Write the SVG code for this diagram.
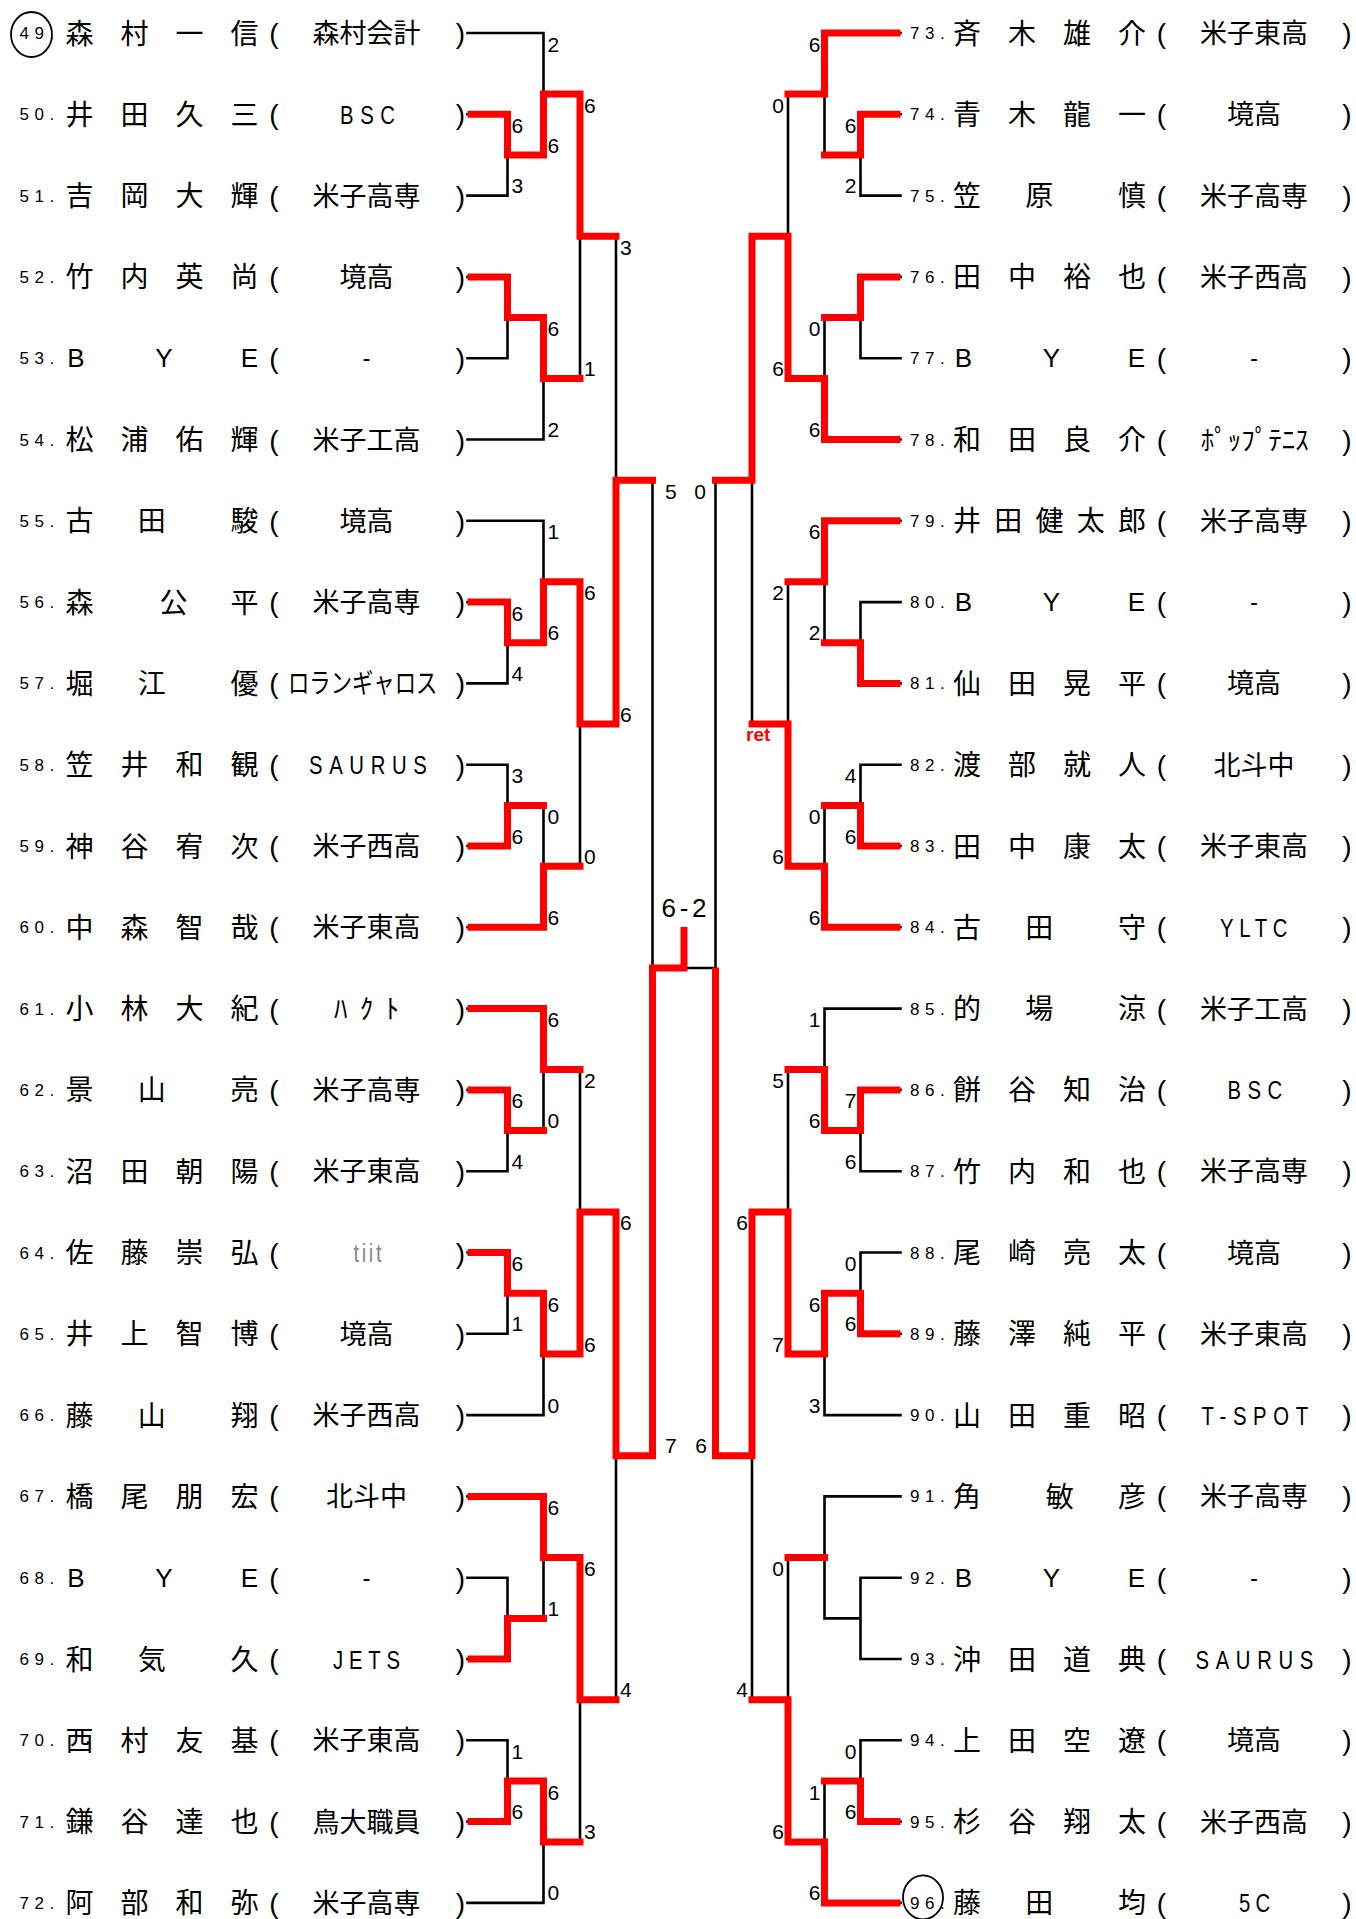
<svg xmlns="http://www.w3.org/2000/svg" width="1356" height="1919" viewBox="0 0 1356 1919">
<style>
.bk{fill:none;stroke:#000;stroke-width:2.6;stroke-linecap:square}
.rd{fill:none;stroke:#f00;stroke-width:7;stroke-linejoin:miter;stroke-linecap:square}
.sc{font-family:'Liberation Sans Narrow','Liberation Sans',Arial,sans-serif;font-size:21px;fill:#000}
.scr{text-anchor:end}
.big{font-family:'Liberation Sans',Arial,sans-serif;font-size:21px;fill:#000}
.ret{font-family:'Liberation Sans',Arial,sans-serif;font-size:19px;font-weight:bold;fill:#f00}
.num{font-family:'Liberation Sans Narrow','Liberation Sans',sans-serif;font-size:17px;letter-spacing:5.5px;fill:#000}
.nm{font-family:'Noto Sans CJK JP',sans-serif;font-size:28px;text-anchor:middle;fill:#000}
.lat{font-family:'Liberation Sans Narrow','Liberation Sans',sans-serif;font-size:26px;text-anchor:middle;fill:#000}
.par{font-family:'Liberation Sans Narrow','Liberation Sans',sans-serif;font-size:28px;text-anchor:middle;fill:#000}
.aff{font-family:'Noto Sans CJK JP',sans-serif;font-size:27px;text-anchor:middle;fill:#000}
.affk{font-family:'Noto Sans CJK JP',sans-serif;font-size:27px;fill:#000}
.affl{font-family:'Liberation Sans',sans-serif;font-size:26px;fill:#000}
.dash{font-family:'Liberation Sans',sans-serif;font-size:24px;text-anchor:middle;fill:#000}
.circ{fill:none;stroke:#000;stroke-width:1.8}
</style>
<rect width="1356" height="1919" fill="#fff"/>
<g id="connectors">
<path class="bk" d="M467.5,33H543.5V155 M467.5,114.3H507.5V195.6H467.5 M507.5,155H543.5 M467.5,276.9H507.5V358.2H467.5 M507.5,317.6H543.5V439.5H467.5 M543.5,94H580V378.5H543.5 M580,236.3H616
M467.5,520.8H543.5V642.8 M467.5,602.1H507.5V683.4H467.5 M507.5,642.8H543.5 M467.5,764.7H507.5V846H467.5 M507.5,805.4H543.5V927.3H467.5 M543.5,581.8H580V866.3H543.5 M580,724.1H616
M467.5,1008.6H543.5V1130.6 M467.5,1089.9H507.5V1171.2H467.5 M507.5,1130.6H543.5 M467.5,1252.5H507.5V1333.8H467.5 M507.5,1293.2H543.5V1415.1H467.5 M543.5,1069.6H580V1354.1H543.5 M580,1211.9H616
M467.5,1496.4H543.5V1618.4 M467.5,1577.7H507.5V1659H467.5 M507.5,1618.4H543.5 M467.5,1740.3H507.5V1821.6H467.5 M507.5,1781H543.5V1902.9H467.5 M543.5,1557.4H580V1841.9H543.5 M580,1699.7H616
M616,236.3V724.1 M616,480.2H652.5 M616,1211.9V1699.7 M616,1455.8H652.5 M652.5,480.2V1455.8 M652.5,968H715.5
M900.5,33H824.5V155 M900.5,114.3H860.5V195.6H900.5 M860.5,155H824.5 M900.5,276.9H860.5V358.2H900.5 M860.5,317.6H824.5V439.5H900.5 M824.5,94H788V378.5H824.5 M788,236.3H752
M900.5,520.8H824.5V642.8 M900.5,602.1H860.5V683.4H900.5 M860.5,642.8H824.5 M900.5,764.7H860.5V846H900.5 M860.5,805.4H824.5V927.3H900.5 M824.5,581.8H788V866.3H824.5 M788,724.1H752
M900.5,1008.6H824.5V1130.6 M900.5,1089.9H860.5V1171.2H900.5 M860.5,1130.6H824.5 M900.5,1252.5H860.5V1333.8H900.5 M860.5,1293.2H824.5V1415.1H900.5 M824.5,1069.6H788V1354.1H824.5 M788,1211.9H752
M900.5,1496.4H824.5V1618.4 M900.5,1577.7H860.5V1659H900.5 M860.5,1618.4H824.5 M900.5,1740.3H860.5V1821.6H900.5 M860.5,1781H824.5V1902.9H900.5 M824.5,1557.4H788V1841.9H824.5 M788,1699.7H752
M752,236.3V724.1 M752,480.2H715.5 M752,1211.9V1699.7 M752,1455.8H715.5 M715.5,480.2V1455.8"/>
<path class="rd" d="M471,114.3H507.5V155H543.5V94H580V236.3H616
M471,276.9H507.5V317.6H543.5V378.5H580
M471,602.1H507.5V642.8H543.5V581.8H580V724.1H616V480.2H652.5
M471,846H507.5V805.4H543.5
M471,927.3H543.5V866.3H580
M471,1008.6H543.5V1069.6H580
M471,1089.9H507.5V1130.6H543.5
M471,1252.5H507.5V1293.2H543.5V1354.1H580V1211.9H616V1455.8H652.5V968H684V930.5
M471,1496.4H543.5V1557.4H580V1699.7H616
M471,1659H507.5V1618.4H543.5
M471,1821.6H507.5V1781H543.5V1841.9H580
M897,33H824.5V94H788
M897,114.3H860.5V155H824.5
M897,276.9H860.5V317.6H824.5
M897,439.5H824.5V378.5H788V236.3H752V480.2H715.5
M897,520.8H824.5V581.8H788
M897,683.4H860.5V642.8H824.5
M897,846H860.5V805.4H824.5
M897,927.3H824.5V866.3H788V724.1H752
M897,1089.9H860.5V1130.6H824.5V1069.6H788
M897,1333.8H860.5V1293.2H824.5V1354.1H788V1211.9H752V1455.8H715.5V971
M824.5,1557.4H788
M897,1821.6H860.5V1781H824.5
M897,1902.9H824.5V1841.9H788V1699.7H752"/>
</g>
<g id="scores">
<text class="sc" x="511.5" y="132.8">6</text><text class="sc" x="511.5" y="193.1">3</text>
<text class="sc" x="547.5" y="51.5">2</text><text class="sc" x="547.5" y="152.5">6</text>
<text class="sc" x="547.5" y="336.1">6</text><text class="sc" x="547.5" y="437">2</text>
<text class="sc" x="584" y="112.5">6</text><text class="sc" x="584" y="376">1</text>
<text class="sc" x="511.5" y="620.6">6</text><text class="sc" x="511.5" y="680.9">4</text>
<text class="sc" x="547.5" y="539.3">1</text><text class="sc" x="547.5" y="640.3">6</text>
<text class="sc" x="511.5" y="783.2">3</text><text class="sc" x="511.5" y="843.5">6</text>
<text class="sc" x="547.5" y="823.9">0</text><text class="sc" x="547.5" y="924.8">6</text>
<text class="sc" x="584" y="600.3">6</text><text class="sc" x="584" y="863.8">0</text>
<text class="sc" x="620" y="254.8">3</text><text class="sc" x="620" y="721.6">6</text>
<text class="sc" x="511.5" y="1108.4">6</text><text class="sc" x="511.5" y="1168.7">4</text>
<text class="sc" x="547.5" y="1027.1">6</text><text class="sc" x="547.5" y="1128.1">0</text>
<text class="sc" x="511.5" y="1271">6</text><text class="sc" x="511.5" y="1331.3">1</text>
<text class="sc" x="547.5" y="1311.7">6</text><text class="sc" x="547.5" y="1412.6">0</text>
<text class="sc" x="584" y="1088.1">2</text><text class="sc" x="584" y="1351.6">6</text>
<text class="sc" x="547.5" y="1514.9">6</text><text class="sc" x="547.5" y="1615.9">1</text>
<text class="sc" x="511.5" y="1758.8">1</text><text class="sc" x="511.5" y="1819.1">6</text>
<text class="sc" x="547.5" y="1799.5">6</text><text class="sc" x="547.5" y="1900.4">0</text>
<text class="sc" x="584" y="1575.9">6</text><text class="sc" x="584" y="1839.4">3</text>
<text class="sc" x="620" y="1230.4">6</text><text class="sc" x="620" y="1697.2">4</text>
<text class="big" x="665" y="498.7">5</text><text class="big" x="665" y="1453.3">7</text>
<text class="sc scr" x="856.5" y="132.8">6</text><text class="sc scr" x="856.5" y="193.1">2</text>
<text class="sc scr" x="820.5" y="51.5">6</text>
<text class="sc scr" x="820.5" y="336.1">0</text><text class="sc scr" x="820.5" y="437">6</text>
<text class="sc scr" x="784" y="112.5">0</text><text class="sc scr" x="784" y="376">6</text>
<text class="sc scr" x="820.5" y="539.3">6</text><text class="sc scr" x="820.5" y="640.3">2</text>
<text class="sc scr" x="856.5" y="783.2">4</text><text class="sc scr" x="856.5" y="843.5">6</text>
<text class="sc scr" x="820.5" y="823.9">0</text><text class="sc scr" x="820.5" y="924.8">6</text>
<text class="sc scr" x="784" y="600.3">2</text><text class="sc scr" x="784" y="863.8">6</text>
<text class="sc scr" x="856.5" y="1108.4">7</text><text class="sc scr" x="856.5" y="1168.7">6</text>
<text class="sc scr" x="820.5" y="1027.1">1</text><text class="sc scr" x="820.5" y="1128.1">6</text>
<text class="sc scr" x="856.5" y="1271">0</text><text class="sc scr" x="856.5" y="1331.3">6</text>
<text class="sc scr" x="820.5" y="1311.7">6</text><text class="sc scr" x="820.5" y="1412.6">3</text>
<text class="sc scr" x="784" y="1088.1">5</text><text class="sc scr" x="784" y="1351.6">7</text>
<text class="sc scr" x="784" y="1575.9">0</text><text class="sc scr" x="784" y="1839.4">6</text>
<text class="sc scr" x="856.5" y="1758.8">0</text><text class="sc scr" x="856.5" y="1819.1">6</text>
<text class="sc scr" x="820.5" y="1799.5">1</text><text class="sc scr" x="820.5" y="1900.4">6</text>
<text class="sc scr" x="748" y="1230.4">6</text><text class="sc scr" x="748" y="1697.2">4</text>
<text class="big scr" x="706" y="498.7">0</text><text class="big scr" x="707" y="1453.3">6</text>
<text class="ret" x="746" y="741">ret</text>
<text class="big" x="661.5" y="917" textLength="45" lengthAdjust="spacing" style="font-size:26px">6-2</text>
</g>
<g id="p49" transform="translate(0,33)"><ellipse class="circ" cx="31.5" cy="1.5" rx="20.5" ry="22.5"/><text class="num" x="19.5" y="6">49.</text><text class="nm" x="79.5 134.5 189.5 244.5" y="10.5">森村一信</text><text class="par" x="274" y="10">(</text><text class="aff" x="366.5" y="10">森村会計</text><text class="par" x="460.5" y="10">)</text></g>
<g id="p50" transform="translate(0,114.3)"><text class="num" x="19.5" y="6">50.</text><text class="nm" x="79.5 134.5 189.5 244.5" y="10.5">井田久三</text><text class="par" x="274" y="10">(</text><text class="affl" transform="translate(340,9.5) scale(0.78,1)" textLength="70.5" lengthAdjust="spacing">BSC</text><text class="par" x="460.5" y="10">)</text></g>
<g id="p51" transform="translate(0,195.6)"><text class="num" x="19.5" y="6">51.</text><text class="nm" x="79.5 134.5 189.5 244.5" y="10.5">吉岡大輝</text><text class="par" x="274" y="10">(</text><text class="aff" x="366.5" y="10">米子高専</text><text class="par" x="460.5" y="10">)</text></g>
<g id="p52" transform="translate(0,276.9)"><text class="num" x="19.5" y="6">52.</text><text class="nm" x="79.5 134.5 189.5 244.5" y="10.5">竹内英尚</text><text class="par" x="274" y="10">(</text><text class="aff" x="366.5" y="10">境高</text><text class="par" x="460.5" y="10">)</text></g>
<g id="p53" transform="translate(0,358.2)"><text class="num" x="19.5" y="6">53.</text><text class="lat" x="76 164 249.5" y="9">BYE</text><text class="par" x="274" y="10">(</text><text class="dash" x="366.5" y="8">-</text><text class="par" x="460.5" y="10">)</text></g>
<g id="p54" transform="translate(0,439.5)"><text class="num" x="19.5" y="6">54.</text><text class="nm" x="79.5 134.5 189.5 244.5" y="10.5">松浦佑輝</text><text class="par" x="274" y="10">(</text><text class="aff" x="366.5" y="10">米子工高</text><text class="par" x="460.5" y="10">)</text></g>
<g id="p55" transform="translate(0,520.8)"><text class="num" x="19.5" y="6">55.</text><text class="nm" x="79.5 151.8 244.5" y="10.5">古田駿</text><text class="par" x="274" y="10">(</text><text class="aff" x="366.5" y="10">境高</text><text class="par" x="460.5" y="10">)</text></g>
<g id="p56" transform="translate(0,602.1)"><text class="num" x="19.5" y="6">56.</text><text class="nm" x="79.5 173.5 244.5" y="10.5">森公平</text><text class="par" x="274" y="10">(</text><text class="aff" x="366.5" y="10">米子高専</text><text class="par" x="460.5" y="10">)</text></g>
<g id="p57" transform="translate(0,683.4)"><text class="num" x="19.5" y="6">57.</text><text class="nm" x="79.5 151.8 244.5" y="10.5">堀江優</text><text class="par" x="274" y="10">(</text><text class="affk" transform="translate(288,10) scale(0.79,1)">ロランギャロス</text><text class="par" x="460.5" y="10">)</text></g>
<g id="p58" transform="translate(0,764.7)"><text class="num" x="19.5" y="6">58.</text><text class="nm" x="79.5 134.5 189.5 244.5" y="10.5">笠井和観</text><text class="par" x="274" y="10">(</text><text class="affl" transform="translate(309,9.5) scale(0.78,1)" textLength="151" lengthAdjust="spacing">SAURUS</text><text class="par" x="460.5" y="10">)</text></g>
<g id="p59" transform="translate(0,846)"><text class="num" x="19.5" y="6">59.</text><text class="nm" x="79.5 134.5 189.5 244.5" y="10.5">神谷宥次</text><text class="par" x="274" y="10">(</text><text class="aff" x="366.5" y="10">米子西高</text><text class="par" x="460.5" y="10">)</text></g>
<g id="p60" transform="translate(0,927.3)"><text class="num" x="19.5" y="6">60.</text><text class="nm" x="79.5 134.5 189.5 244.5" y="10.5">中森智哉</text><text class="par" x="274" y="10">(</text><text class="aff" x="366.5" y="10">米子東高</text><text class="par" x="460.5" y="10">)</text></g>
<g id="p61" transform="translate(0,1008.6)"><text class="num" x="19.5" y="6">61.</text><text class="nm" x="79.5 134.5 189.5 244.5" y="10.5">小林大紀</text><text class="par" x="274" y="10">(</text><text class="affk" x="334" y="10" textLength="65" lengthAdjust="spacing">ﾊｸﾄ</text><text class="par" x="460.5" y="10">)</text></g>
<g id="p62" transform="translate(0,1089.9)"><text class="num" x="19.5" y="6">62.</text><text class="nm" x="79.5 151.8 244.5" y="10.5">景山亮</text><text class="par" x="274" y="10">(</text><text class="aff" x="366.5" y="10">米子高専</text><text class="par" x="460.5" y="10">)</text></g>
<g id="p63" transform="translate(0,1171.2)"><text class="num" x="19.5" y="6">63.</text><text class="nm" x="79.5 134.5 189.5 244.5" y="10.5">沼田朝陽</text><text class="par" x="274" y="10">(</text><text class="aff" x="366.5" y="10">米子東高</text><text class="par" x="460.5" y="10">)</text></g>
<g id="p64" transform="translate(0,1252.5)"><text class="num" x="19.5" y="6">64.</text><text class="nm" x="79.5 134.5 189.5 244.5" y="10.5">佐藤崇弘</text><text class="par" x="274" y="10">(</text><text class="affl" transform="translate(353.5,9.5) scale(0.78,1)" textLength="36" lengthAdjust="spacing" style="fill:#8a8a8a">tiit</text><text class="par" x="460.5" y="10">)</text></g>
<g id="p65" transform="translate(0,1333.8)"><text class="num" x="19.5" y="6">65.</text><text class="nm" x="79.5 134.5 189.5 244.5" y="10.5">井上智博</text><text class="par" x="274" y="10">(</text><text class="aff" x="366.5" y="10">境高</text><text class="par" x="460.5" y="10">)</text></g>
<g id="p66" transform="translate(0,1415.1)"><text class="num" x="19.5" y="6">66.</text><text class="nm" x="79.5 151.8 244.5" y="10.5">藤山翔</text><text class="par" x="274" y="10">(</text><text class="aff" x="366.5" y="10">米子西高</text><text class="par" x="460.5" y="10">)</text></g>
<g id="p67" transform="translate(0,1496.4)"><text class="num" x="19.5" y="6">67.</text><text class="nm" x="79.5 134.5 189.5 244.5" y="10.5">橋尾朋宏</text><text class="par" x="274" y="10">(</text><text class="aff" x="366.5" y="10">北斗中</text><text class="par" x="460.5" y="10">)</text></g>
<g id="p68" transform="translate(0,1577.7)"><text class="num" x="19.5" y="6">68.</text><text class="lat" x="76 164 249.5" y="9">BYE</text><text class="par" x="274" y="10">(</text><text class="dash" x="366.5" y="8">-</text><text class="par" x="460.5" y="10">)</text></g>
<g id="p69" transform="translate(0,1659)"><text class="num" x="19.5" y="6">69.</text><text class="nm" x="79.5 151.8 244.5" y="10.5">和気久</text><text class="par" x="274" y="10">(</text><text class="affl" transform="translate(333,9.5) scale(0.78,1)" textLength="86" lengthAdjust="spacing">JETS</text><text class="par" x="460.5" y="10">)</text></g>
<g id="p70" transform="translate(0,1740.3)"><text class="num" x="19.5" y="6">70.</text><text class="nm" x="79.5 134.5 189.5 244.5" y="10.5">西村友基</text><text class="par" x="274" y="10">(</text><text class="aff" x="366.5" y="10">米子東高</text><text class="par" x="460.5" y="10">)</text></g>
<g id="p71" transform="translate(0,1821.6)"><text class="num" x="19.5" y="6">71.</text><text class="nm" x="79.5 134.5 189.5 244.5" y="10.5">鎌谷達也</text><text class="par" x="274" y="10">(</text><text class="aff" x="366.5" y="10">鳥大職員</text><text class="par" x="460.5" y="10">)</text></g>
<g id="p72" transform="translate(0,1902.9)"><text class="num" x="19.5" y="6">72.</text><text class="nm" x="79.5 134.5 189.5 244.5" y="10.5">阿部和弥</text><text class="par" x="274" y="10">(</text><text class="aff" x="366.5" y="10">米子高専</text><text class="par" x="460.5" y="10">)</text></g>
<g id="p73" transform="translate(0,33)"><text class="num" x="910" y="6">73.</text><text class="nm" x="967 1022 1077 1132" y="10.5">斉木雄介</text><text class="par" x="1161.5" y="10">(</text><text class="aff" x="1254" y="10">米子東高</text><text class="par" x="1347" y="10">)</text></g>
<g id="p74" transform="translate(0,114.3)"><text class="num" x="910" y="6">74.</text><text class="nm" x="967 1022 1077 1132" y="10.5">青木龍一</text><text class="par" x="1161.5" y="10">(</text><text class="aff" x="1254" y="10">境高</text><text class="par" x="1347" y="10">)</text></g>
<g id="p75" transform="translate(0,195.6)"><text class="num" x="910" y="6">75.</text><text class="nm" x="967 1039.3 1132" y="10.5">笠原慎</text><text class="par" x="1161.5" y="10">(</text><text class="aff" x="1254" y="10">米子高専</text><text class="par" x="1347" y="10">)</text></g>
<g id="p76" transform="translate(0,276.9)"><text class="num" x="910" y="6">76.</text><text class="nm" x="967 1022 1077 1132" y="10.5">田中裕也</text><text class="par" x="1161.5" y="10">(</text><text class="aff" x="1254" y="10">米子西高</text><text class="par" x="1347" y="10">)</text></g>
<g id="p77" transform="translate(0,358.2)"><text class="num" x="910" y="6">77.</text><text class="lat" x="963.5 1051.5 1136.5" y="9">BYE</text><text class="par" x="1161.5" y="10">(</text><text class="dash" x="1254" y="8">-</text><text class="par" x="1347" y="10">)</text></g>
<g id="p78" transform="translate(0,439.5)"><text class="num" x="910" y="6">78.</text><text class="nm" x="967 1022 1077 1132" y="10.5">和田良介</text><text class="par" x="1161.5" y="10">(</text><text class="affk" x="1200.7" y="10" textLength="108" lengthAdjust="spacing">ﾎﾟｯﾌﾟﾃﾆｽ</text><text class="par" x="1347" y="10">)</text></g>
<g id="p79" transform="translate(0,520.8)"><text class="num" x="910" y="6">79.</text><text class="nm" x="967 1008.3 1049.5 1090.8 1132" y="10.5">井田健太郎</text><text class="par" x="1161.5" y="10">(</text><text class="aff" x="1254" y="10">米子高専</text><text class="par" x="1347" y="10">)</text></g>
<g id="p80" transform="translate(0,602.1)"><text class="num" x="910" y="6">80.</text><text class="lat" x="963.5 1051.5 1136.5" y="9">BYE</text><text class="par" x="1161.5" y="10">(</text><text class="dash" x="1254" y="8">-</text><text class="par" x="1347" y="10">)</text></g>
<g id="p81" transform="translate(0,683.4)"><text class="num" x="910" y="6">81.</text><text class="nm" x="967 1022 1077 1132" y="10.5">仙田晃平</text><text class="par" x="1161.5" y="10">(</text><text class="aff" x="1254" y="10">境高</text><text class="par" x="1347" y="10">)</text></g>
<g id="p82" transform="translate(0,764.7)"><text class="num" x="910" y="6">82.</text><text class="nm" x="967 1022 1077 1132" y="10.5">渡部就人</text><text class="par" x="1161.5" y="10">(</text><text class="aff" x="1254" y="10">北斗中</text><text class="par" x="1347" y="10">)</text></g>
<g id="p83" transform="translate(0,846)"><text class="num" x="910" y="6">83.</text><text class="nm" x="967 1022 1077 1132" y="10.5">田中康太</text><text class="par" x="1161.5" y="10">(</text><text class="aff" x="1254" y="10">米子東高</text><text class="par" x="1347" y="10">)</text></g>
<g id="p84" transform="translate(0,927.3)"><text class="num" x="910" y="6">84.</text><text class="nm" x="967 1039.3 1132" y="10.5">古田守</text><text class="par" x="1161.5" y="10">(</text><text class="affl" transform="translate(1220,9.5) scale(0.78,1)" textLength="86.5" lengthAdjust="spacing">YLTC</text><text class="par" x="1347" y="10">)</text></g>
<g id="p85" transform="translate(0,1008.6)"><text class="num" x="910" y="6">85.</text><text class="nm" x="967 1039.3 1132" y="10.5">的場涼</text><text class="par" x="1161.5" y="10">(</text><text class="aff" x="1254" y="10">米子工高</text><text class="par" x="1347" y="10">)</text></g>
<g id="p86" transform="translate(0,1089.9)"><text class="num" x="910" y="6">86.</text><text class="nm" x="967 1022 1077 1132" y="10.5">餅谷知治</text><text class="par" x="1161.5" y="10">(</text><text class="affl" transform="translate(1227.6,9.5) scale(0.78,1)" textLength="70" lengthAdjust="spacing">BSC</text><text class="par" x="1347" y="10">)</text></g>
<g id="p87" transform="translate(0,1171.2)"><text class="num" x="910" y="6">87.</text><text class="nm" x="967 1022 1077 1132" y="10.5">竹内和也</text><text class="par" x="1161.5" y="10">(</text><text class="aff" x="1254" y="10">米子高専</text><text class="par" x="1347" y="10">)</text></g>
<g id="p88" transform="translate(0,1252.5)"><text class="num" x="910" y="6">88.</text><text class="nm" x="967 1022 1077 1132" y="10.5">尾崎亮太</text><text class="par" x="1161.5" y="10">(</text><text class="aff" x="1254" y="10">境高</text><text class="par" x="1347" y="10">)</text></g>
<g id="p89" transform="translate(0,1333.8)"><text class="num" x="910" y="6">89.</text><text class="nm" x="967 1022 1077 1132" y="10.5">藤澤純平</text><text class="par" x="1161.5" y="10">(</text><text class="aff" x="1254" y="10">米子東高</text><text class="par" x="1347" y="10">)</text></g>
<g id="p90" transform="translate(0,1415.1)"><text class="num" x="910" y="6">90.</text><text class="nm" x="967 1022 1077 1132" y="10.5">山田重昭</text><text class="par" x="1161.5" y="10">(</text><text class="affl" transform="translate(1201.6,9.5) scale(0.78,1)" textLength="136.5" lengthAdjust="spacing">T-SPOT</text><text class="par" x="1347" y="10">)</text></g>
<g id="p91" transform="translate(0,1496.4)"><text class="num" x="910" y="6">91.</text><text class="nm" x="967 1059.8 1132" y="10.5">角敏彦</text><text class="par" x="1161.5" y="10">(</text><text class="aff" x="1254" y="10">米子高専</text><text class="par" x="1347" y="10">)</text></g>
<g id="p92" transform="translate(0,1577.7)"><text class="num" x="910" y="6">92.</text><text class="lat" x="963.5 1051.5 1136.5" y="9">BYE</text><text class="par" x="1161.5" y="10">(</text><text class="dash" x="1254" y="8">-</text><text class="par" x="1347" y="10">)</text></g>
<g id="p93" transform="translate(0,1659)"><text class="num" x="910" y="6">93.</text><text class="nm" x="967 1022 1077 1132" y="10.5">沖田道典</text><text class="par" x="1161.5" y="10">(</text><text class="affl" transform="translate(1195.5,9.5) scale(0.78,1)" textLength="151" lengthAdjust="spacing">SAURUS</text><text class="par" x="1347" y="10">)</text></g>
<g id="p94" transform="translate(0,1740.3)"><text class="num" x="910" y="6">94.</text><text class="nm" x="967 1022 1077 1132" y="10.5">上田空遼</text><text class="par" x="1161.5" y="10">(</text><text class="aff" x="1254" y="10">境高</text><text class="par" x="1347" y="10">)</text></g>
<g id="p95" transform="translate(0,1821.6)"><text class="num" x="910" y="6">95.</text><text class="nm" x="967 1022 1077 1132" y="10.5">杉谷翔太</text><text class="par" x="1161.5" y="10">(</text><text class="aff" x="1254" y="10">米子西高</text><text class="par" x="1347" y="10">)</text></g>
<g id="p96" transform="translate(0,1902.9)"><ellipse class="circ" cx="923" cy="-5.5" rx="20" ry="22"/><text class="num" x="910" y="6">96.</text><text class="nm" x="967 1039.3 1132" y="10.5">藤田均</text><text class="par" x="1161.5" y="10">(</text><text class="affl" transform="translate(1239,9.5) scale(0.78,1)" textLength="40" lengthAdjust="spacing">5C</text><text class="par" x="1347" y="10">)</text></g>
</svg>
